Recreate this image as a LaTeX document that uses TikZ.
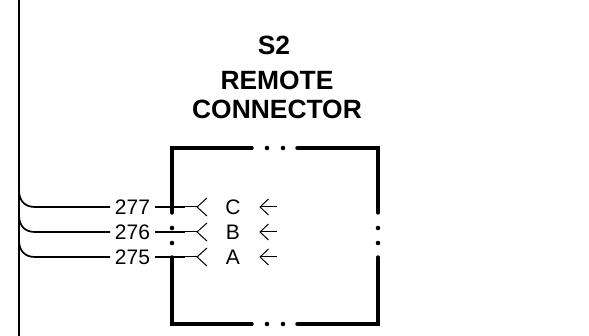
\documentclass[tikz,border=0pt]{standalone}
\usepackage{fontspec}
\setmainfont{Liberation Sans}
\tikzset{
  x=1pt,y=-1pt,
  wire/.style={line width=1.7pt},
  thinwire/.style={line width=1pt},
  boxline/.style={line width=3.4pt,line cap=round,line join=miter},
  bead/.style={circle,fill=black,inner sep=0pt,minimum size=4.6pt},
  title/.style={font=\bfseries\fontsize{26.4}{28}\selectfont,inner sep=0pt,anchor=base},
  lbl/.style={font=\fontsize{21}{23}\selectfont,inner sep=0pt,anchor=base},
}
\begin{document}
\begin{tikzpicture}
\useasboundingbox (0,0) rectangle (589,336);
\node[title] (s2) at (274,54.5) {S2};
\node[title] (rem) at (277,89.5) {REMOTE};
\node[title] (con) at (277,118.5) {CONNECTOR};
% bus
\coordinate (bt) at (19,0);
\coordinate (bb) at (19,336);
\draw[wire] (bt) -- (bb);
% frame
\coordinate (tl) at (172,148);
\coordinate (tr) at (378,148);
\coordinate (bl) at (172,324);
\coordinate (br) at (378,324);
\draw[boxline] (252,148) -- (tl) -- (172,213);
\draw[boxline] (297,148) -- (tr) -- (378,213);
\draw[boxline] (252,324) -- (bl) -- (172,257);
\draw[boxline] (297,324) -- (br) -- (378,257);
\foreach \nm/\px/\py in {a/267/148,b/283/148,c/267/324,d/283/324,e/172/228,f/172/243,g/378/228,h/378/243}
  \node[bead] (\nm) at (\px,\py) {};
% rows
\foreach \rr/\wnum/\wlet/\yy in {c/277/C/207,b/276/B/232,a/275/A/257}{
  \node[lbl] (n\rr) at (132.5,\yy+7.5) {\wnum};
  \node[lbl] (l\rr) at (233,\yy+7.5) {\wlet};
  \coordinate (s\rr) at (19,\yy-17);
  \coordinate (w\rr) at (110,\yy);
  \coordinate (f\rr) at (155,\yy);
  \coordinate (m\rr) at (185,\yy);
  \coordinate (t\rr) at (197,\yy);
  \draw[wire] (s\rr) .. controls (19,\yy-5) and (26,\yy) .. (35,\yy) -- (w\rr);
  \draw[wire] (f\rr) -- (m\rr);
  \draw[thinwire] (m\rr) -- (t\rr);
  \draw[thinwire] (207,\yy-9) -- (t\rr) -- (207,\yy+9);
  \coordinate (h\rr) at (260,\yy);
  \draw[thinwire] (277,\yy) -- (h\rr);
  \draw[thinwire] (268.5,\yy-8) -- (h\rr) -- (268.5,\yy+8);
}
\end{tikzpicture}
\end{document}
